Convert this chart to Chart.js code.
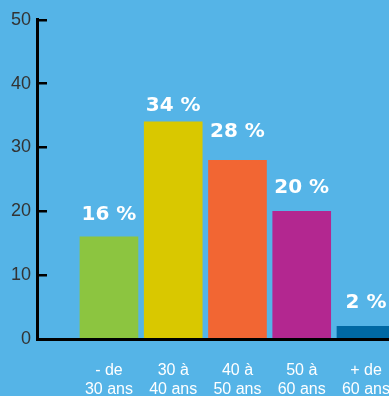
<!DOCTYPE html>
<html>
<head>
<meta charset="utf-8">
<script src="https://cdn.jsdelivr.net/npm/chart.js@4"></script>
<style>
  html, body { margin: 0; padding: 0; background: #55b4e7; overflow: hidden; }
  #wrap { position: absolute; left: 0; top: -7px; width: 412px; height: 426px; }
</style>
</head>
<body>
<div id="wrap"><canvas id="myChart"></canvas></div>
<script>
// Tranches d'age et parts (%)
const categories = [['- de', '30 ans'], ['30 à', '40 ans'], ['40 à', '50 ans'], ['50 à', '60 ans'], ['+ de', '60 ans']];
const values = [16, 34, 28, 20, 2];
const yTicks = [0, 10, 20, 30, 40, 50];

const barColors = ['#8cc540', '#d9c800', '#f26633', '#b32790', '#0068a3'];
// decalage vertical de chaque etiquette au-dessus de sa barre (px)
const labelLift = [17, 11, 23, 18, 18];

const ctx = document.getElementById('myChart');

// etiquettes "xx %" au-dessus des barres
const valueLabels = {
    id: 'valueLabels',
    afterDatasetsDraw(chart) {
        const c = chart.ctx;
        const meta = chart.getDatasetMeta(0);
        c.save();
        c.fillStyle = '#ffffff';
        c.font = 'bold 20px "DejaVu Sans"';
        c.textAlign = 'center';
        c.textBaseline = 'alphabetic';
        meta.data.forEach((bar, i) => {
            c.fillText(values[i] + ' %', bar.x, bar.y - labelLift[i]);
        });
        c.restore();
    }
};

new Chart(ctx, {
    type: 'bar',
    data: {
        datasets: [{
            data: values.map((v, i) => ({ x: i + 1, y: v })),
            backgroundColor: barColors,
            borderWidth: 0,
            barThickness: 58
        }]
    },
    options: {
        responsive: true,
        maintainAspectRatio: false,
        animation: false,
        layout: {
            padding: { top: 4, right: 0, bottom: 0, left: 0 }
        },
        plugins: {
            legend: { display: false },
            tooltip: { enabled: false }
        },
        scales: {
            x: {
                type: 'linear',
                offset: false,
                min: -0.12,
                max: 5.6,
                afterBuildTicks: (scale) => {
                    scale.ticks = categories.map((c, i) => ({ value: i + 1 }));
                },
                afterFit: (scale) => { scale.height = 80; },
                grid: { display: true, offset: false, drawOnChartArea: false, drawTicks: false },
                border: { display: true, color: '#000000', width: 3 },
                ticks: {
                    autoSkip: false,
                    maxRotation: 0,
                    padding: 22,
                    color: '#ffffff',
                    font: { family: '"Liberation Sans", Arial, sans-serif', size: 16, lineHeight: 1.2 },
                    callback: (value, index) => categories[index]
                }
            },
            y: {
                min: 0,
                max: 50,
                afterBuildTicks: (scale) => {
                    scale.ticks = yTicks.map(v => ({ value: v }));
                },
                afterFit: (scale) => { scale.width = 37; },
                grid: { display: true, drawOnChartArea: false, tickLength: -10, color: '#000000', lineWidth: 2.5 },
                border: { display: true, color: '#000000', width: 3 },
                ticks: {
                    padding: 16,
                    color: '#333333',
                    font: { family: '"Liberation Sans", Arial, sans-serif', size: 18 }
                }
            }
        }
    },
    plugins: [valueLabels]
});
</script>
</body>
</html>
